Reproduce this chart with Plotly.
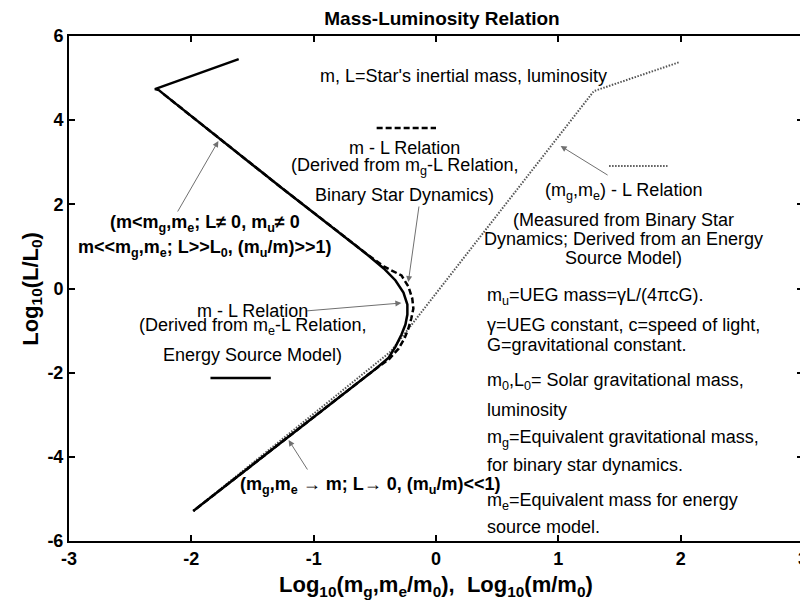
import plotly.graph_objects as go

# ---- data ----
solid_x = [-1.613, -2.298, -2.266, -2.226, -1.258, -0.750, -0.573, -0.427, -0.331, -0.266, -0.234, -0.234,
           -0.250, -0.282, -0.331, -0.387, -0.492, -1.984]
solid_y = [5.452, 4.738, 4.714, 4.619, 2.381, 1.238, 0.833, 0.476, 0.190, -0.095, -0.381, -0.619,
           -0.857, -1.095, -1.381, -1.643, -1.905, -5.286]

dashed_x = [-2.226, -1.258, -0.750, -0.573, -0.427, -0.282, -0.226, -0.194, -0.185, -0.202, -0.226,
            -0.258, -0.306, -0.387, -0.492, -1.984]
dashed_y = [4.619, 2.381, 1.238, 0.833, 0.524, 0.310, 0.048, -0.238, -0.476, -0.714, -0.952,
            -1.190, -1.429, -1.690, -1.905, -5.286]

dotted_x = [-1.984, -0.371, 1.290, 1.992]
dotted_y = [-5.286, -1.500, 4.690, 5.381]

x_ticks = [-3, -2, -1, 0, 1, 2, 3]
y_ticks = [-6, -4, -2, 0, 2, 4, 6]

FONT = "Arial, Liberation Sans, sans-serif"

# plot area geometry (pixels) used to place annotations
L, R, T, B = 61, 800, 28, 533
W, H = 808, 603
# reference pixel frame the annotation positions were read in
RL, RR = 61, 803


def X(px):
    return -3 + (px - RL) / (RR - RL) * 6


def Y(py):
    return 6 - (py - T) / (B - T) * 12


fig = go.Figure()
fig.add_trace(go.Scatter(x=dotted_x, y=dotted_y, mode="lines",
                         line=dict(color="#555555", width=2, dash="1.5px,1.5px"), showlegend=False))
fig.add_trace(go.Scatter(x=dashed_x, y=dashed_y, mode="lines",
                         line=dict(color="black", width=2.5, dash="6px,3px"), showlegend=False))
fig.add_trace(go.Scatter(x=solid_x, y=solid_y, mode="lines",
                         line=dict(color="black", width=2.5), showlegend=False))

# legend-style line samples
fig.add_shape(type="line", x0=X(204), x1=X(265), y0=Y(370), y1=Y(370), line=dict(color="black", width=2.5))
fig.add_shape(type="line", x0=X(372), x1=X(432), y0=Y(120), y1=Y(120), line=dict(color="black", width=2.5, dash="6px,3px"))
fig.add_shape(type="line", x0=X(607), x1=X(666), y0=Y(158), y1=Y(158), line=dict(color="#555555", width=2, dash="1.5px,1.5px"))

annots = []
FS = 18


def txt(text, px, py, size=FS, bold=False, anchor="center"):
    annots.append(dict(x=X(px), y=Y(py), xref="x", yref="y", text=text, showarrow=False,
                       xanchor=anchor, yanchor="middle",
                       font=dict(family=FONT, size=size, color="black", weight="bold" if bold else "normal")))


def arrow(hx, hy, tx, ty):
    annots.append(dict(x=X(hx), y=Y(hy), ax=X(tx), ay=Y(ty), xref="x", yref="y", axref="x", ayref="y",
                       text="", showarrow=True, arrowhead=2, arrowsize=1.2, arrowwidth=1, arrowcolor="#707070"))


txt("m, L=Star's inertial mass, luminosity", 460, 68)

txt("m - L Relation", 400, 140)
txt("(Derived from m<sub>g</sub>-L Relation,", 400, 158)
txt("Binary Star Dynamics)", 400, 187)

txt("(m<sub>g</sub>,m<sub>e</sub>) - L Relation", 622, 183)
txt("(Measured from Binary Star", 622, 212)
txt("Dynamics; Derived from an Energy", 622, 231)
txt("Source Model)", 622, 250)

txt("(m&lt;m<sub>g</sub>,m<sub>e</sub>; L\u2260 0, m<sub>u</sub>\u2260 0", 198, 215, bold=True)
txt("m&lt;&lt;m<sub>g</sub>,m<sub>e</sub>; L&gt;&gt;L<sub>0</sub>, (m<sub>u</sub>/m)&gt;&gt;1)", 198, 240, bold=True)

txt("m - L Relation", 247, 303)
txt("(Derived from m<sub>e</sub>-L Relation,", 247, 318)
txt("Energy Source Model)", 247, 347)

txt("(m<sub>g</sub>,m<sub>e</sub> \u2192 m; L\u2192 0, (m<sub>u</sub>/m)&lt;&lt;1)", 232, 477, bold=True, anchor="left")

right_lines = [
    ("m<sub>u</sub>=UEG mass=\u03b3L/(4\u03c0cG).", 288),
    ("\u03b3=UEG constant, c=speed of light,", 317),
    ("G=gravitational constant.", 337),
    ("m<sub>0</sub>,L<sub>0</sub>= Solar gravitational mass,", 373),
    ("luminosity", 402),
    ("m<sub>g</sub>=Equivalent gravitational mass,", 430),
    ("for binary star dynamics.", 457),
    ("m<sub>e</sub>=Equivalent mass for energy", 493),
    ("source model.", 519),
]
for t, py in right_lines:
    txt(t, 482, py, anchor="left")

arrow(212, 133, 170, 205)
arrow(404, 274, 415, 197)
arrow(397, 295, 300, 303)
arrow(558, 138, 607, 168)
arrow(283, 432, 303, 463)

# axis titles
annots.append(dict(x=0.5, y=-(578 - B) / (B - T), xref="paper", yref="paper", showarrow=False,
                   text="Log<sub>10</sub>(m<sub>g</sub>,m<sub>e</sub>/m<sub>0</sub>),  Log<sub>10</sub>(m/m<sub>0</sub>)",
                   xanchor="center", yanchor="middle",
                   font=dict(family=FONT, size=22, color="black", weight="bold")))
annots.append(dict(x=-(L - 23) / (R - L), y=0.5, xref="paper", yref="paper", showarrow=False,
                   text="Log<sub>10</sub>(L/L<sub>0</sub>)", textangle=-90,
                   xanchor="center", yanchor="middle",
                   font=dict(family=FONT, size=22, color="black", weight="bold")))

axis_common = dict(showgrid=False, zeroline=False, showline=True, linecolor="black", linewidth=2,
                   mirror="ticks", ticks="inside", ticklen=6, tickwidth=1.5, tickcolor="black",
                   tickfont=dict(family=FONT, size=18, color="black", weight="bold"))

fig.update_layout(
    width=W, height=H,
    margin=dict(l=L, r=W - R, t=T, b=H - B, pad=0),
    paper_bgcolor="white", plot_bgcolor="white",
    title=dict(text="Mass-Luminosity Relation", x=434 / W, xanchor="center", y=1 - 10 / H, yanchor="middle",
               font=dict(family=FONT, size=19, color="black", weight="bold")),
    xaxis=dict(range=[-3, 3], tickvals=x_ticks, ticktext=[str(v) for v in x_ticks], **axis_common),
    yaxis=dict(range=[-6, 6], tickvals=y_ticks, ticktext=[str(v) for v in y_ticks], **axis_common),
    annotations=annots,
    showlegend=False,
)

fig.write_html("out.html")
